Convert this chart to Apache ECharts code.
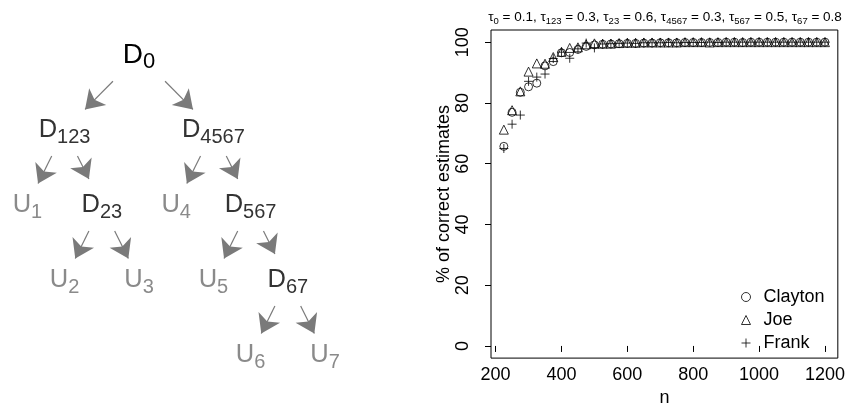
<!DOCTYPE html>
<html>
<head>
<meta charset="utf-8">
<script src="https://cdn.jsdelivr.net/npm/echarts@6/dist/echarts.min.js"></script>
<style>
html,body{margin:0;padding:0;background:#fff;}
#chart{width:848px;height:412px;}
</style>
</head>
<body>
<div id="chart"></div>
<script>
// ---- scatter data ----
var sampleSizes = [225,250,275,300,325,350,375,400,425,450,475,500,525,550,575,600,625,650,675,700,
                   725,750,775,800,825,850,875,900,925,950,975,1000,1025,1050,1075,1100,1125,1150,1175,1200];
var clayton = [65.7,76.9,83.5,85.3,86.5,92.2,93.6,96.5,96.6,97.6,98.6,99.1,99.3,99.4,99.5,99.6,99.6,99.7,99.7,99.8,
               99.8,99.8,99.9,99.9,99.9,99.9,99.9,100,100,99.9,100,100,100,100,100,100,100,100,100,100];
var joe = [71.2,77.6,83.8,90.3,93.0,92.9,95.1,96.8,98.1,98.3,99.3,99.6,99.5,99.5,99.7,99.8,99.8,99.9,99.9,99.9,
           99.9,99.9,100,100,100,99.9,100,100,100,100,100,100,100,100,100,100,100,100,100,100];
var frank = [65.0,73.0,76.0,87.1,88.5,89.5,94.6,96.7,94.7,97.8,99.7,98.1,99.4,99.5,99.6,99.7,99.6,99.8,99.8,99.8,
             99.9,99.8,99.9,99.9,99.9,100,99.9,100,100,100,100,100,100,100,100,100,100,100,100,100];
var xTicks = [200,400,600,800,1000,1200];
var yTicks = [0,20,40,60,80,100];
var seriesNames = ['Clayton','Joe','Frank'];
var tauNames = ['0','123','23','4567','567','67'];
var tauValues = ['0.1','0.3','0.6','0.3','0.5','0.8'];

// ---- tree data ----
var treeNodes = ['D0','D123','D4567','U1','D23','U4','D567','U2','U3','U5','D67','U6','U7'];
var treeSlot  = [0,-2,2,-3,-1,1,3,-2,0,2,4,3,5];   // horizontal slot in the tree
var treeDepth = [0,1,1,2,2,2,2,3,3,3,3,4,4];
var treeParent = ['', 'D0','D0','D123','D123','D4567','D4567','D23','D23','D567','D567','D67','D67'];

var FONT = 'Liberation Sans, Arial, Helvetica, sans-serif';

function pairs(ys){ return sampleSizes.map(function(n,i){ return [n, ys[i]]; }); }

var titleText = tauNames.map(function(s,i){
  return '{t|τ}{s|' + s + '}{t| = ' + tauValues[i] + (i < tauNames.length-1 ? ',\u00a0' : '') + '}';
}).join('');

function nodeKind(name){ return name === 'D0' ? 'r' : (name[0] === 'D' ? 'd' : 'u'); }
var trimSize = {r:74, d:58, u:48};

var graphData = treeNodes.map(function(name,i){
  return {name:name, value:[treeSlot[i], treeDepth[i]], symbolSize: trimSize[nodeKind(name)]};
});
var graphLinks = [];
treeNodes.forEach(function(name,i){ if (treeParent[i]) graphLinks.push({source:treeParent[i], target:name}); });

var markerStyle = {color:'rgba(0,0,0,0)', borderColor:'#000', borderWidth:1};
var symbols = ['circle','triangle','path://M0,-1L0,1M-1,0L1,0'];
var sizes = [8,9,9];
var datasets = [clayton, joe, frank];

var chart = echarts.init(document.getElementById('chart'), null, {renderer:'canvas'});
var option = {
  animation:false,
  textStyle:{fontFamily:FONT},
  title:{
    text:titleText, left:660, top:3, textAlign:'center',
    textStyle:{fontWeight:'normal', rich:{
      t:{fontSize:13.5, lineHeight:18, color:'#000', fontFamily:FONT, fontWeight:'normal'},
      s:{fontSize:9.5, lineHeight:10, padding:[8,0,0,0], color:'#000', fontFamily:FONT, fontWeight:'normal'}
    }}
  },
  legend:{
    data:seriesNames, orient:'vertical', left:736, top:283,
    itemWidth:9, itemHeight:9, itemGap:5,
    textStyle:{fontSize:18, color:'#000', fontFamily:FONT, padding:[0,0,0,8]},
    itemStyle:{color:'rgba(0,0,0,0)', borderColor:'#000', borderWidth:1}
  },
  grid:[
    {left:491, top:30, right:10, bottom:46, show:true, borderColor:'#000', borderWidth:1, backgroundColor:'transparent'},
    {left:8.8, top:17.5, width:334.8, height:375, show:false}
  ],
  xAxis:[
    {type:'value', gridIndex:0, min:186, max:1239,
     name:'n', nameLocation:'middle', nameGap:29, nameTextStyle:{fontSize:18, color:'#000', fontFamily:FONT},
     axisLine:{show:false}, splitLine:{show:false},
     axisTick:{show:true, length:6, customValues:xTicks, lineStyle:{color:'#000'}},
     axisLabel:{customValues:xTicks, fontSize:18, color:'#000', margin:8, fontFamily:FONT,
                formatter:function(v){ return String(v); }}},
    {type:'value', gridIndex:1, min:-3.5, max:5.5, show:false}
  ],
  yAxis:[
    {type:'value', gridIndex:0, min:-4, max:104,
     name:'% of correct estimates', nameLocation:'middle', nameGap:38, nameRotate:90, nameMoveOverlap:false,
     nameTextStyle:{fontSize:18, color:'#000', fontFamily:FONT},
     axisLine:{show:false}, splitLine:{show:false},
     axisTick:{show:true, length:6, customValues:yTicks, lineStyle:{color:'#000'}},
     axisLabel:{customValues:yTicks, fontSize:18, color:'#000', rotate:90, margin:19, fontFamily:FONT,
                formatter:function(v){ return String(v); }}},
    {type:'value', gridIndex:1, min:-0.5, max:4.5, inverse:true, show:false}
  ],
  series: seriesNames.map(function(nm,k){
    return {type:'scatter', name:nm, xAxisIndex:0, yAxisIndex:0, data:pairs(datasets[k]),
            symbol:symbols[k], symbolSize:sizes[k], itemStyle:markerStyle, z:3+k};
  }).concat([{
    type:'graph', coordinateSystem:'cartesian2d', xAxisIndex:1, yAxisIndex:1,
    data:graphData, links:graphLinks,
    symbol:'circle', itemStyle:{color:'rgba(0,0,0,0)'},
    edgeSymbol:['circle','arrow'], edgeSymbolSize:[0,18],
    lineStyle:{color:'#7a7a7a', width:1.2, opacity:1, curveness:0},
    label:{show:true, position:'inside',
      formatter:function(p){ var k = nodeKind(p.name); return '{' + k + '|' + p.name[0] + '}{' + k + 's|' + p.name.slice(1) + '}'; },
      rich:{
        r:{fontSize:28, lineHeight:34, color:'#000', fontFamily:FONT},
        rs:{fontSize:22, lineHeight:20, padding:[14,0,0,0], color:'#000', fontFamily:FONT},
        d:{fontSize:25.5, lineHeight:34, color:'#333', fontFamily:FONT},
        ds:{fontSize:20, lineHeight:20, padding:[14,0,0,0], color:'#333', fontFamily:FONT},
        u:{fontSize:25.5, lineHeight:34, color:'#8a8a8a', fontFamily:FONT},
        us:{fontSize:20, lineHeight:20, padding:[14,0,0,0], color:'#8a8a8a', fontFamily:FONT}
      }},
    emphasis:{disabled:true}
  }])
};
chart.setOption(option);
</script>
</body>
</html>
